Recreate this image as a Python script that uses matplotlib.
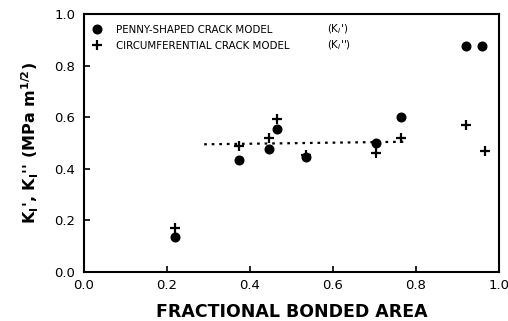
import matplotlib
matplotlib.use("Agg")
import matplotlib.pyplot as plt
from matplotlib.lines import Line2D

plt.rcParams['font.family'] = ['DejaVu Sans']

# data
area = [0.22, 0.375, 0.445, 0.465, 0.535, 0.705, 0.765, 0.922, 0.96]
k_penny = [0.134, 0.435, 0.478, 0.555, 0.445, 0.50, 0.602, 0.878, 0.878]
area_circ = [0.22, 0.375, 0.445, 0.465, 0.535, 0.705, 0.765, 0.922, 0.966]
k_circ = [0.172, 0.49, 0.52, 0.595, 0.455, 0.46, 0.52, 0.57, 0.468]
fit_x = [0.29, 0.78]
fit_y = [0.495, 0.505]
tick_labels = ['0.0', '0.2', '0.4', '0.6', '0.8', '1.0']

fig = plt.figure(figsize=(5.08, 3.21), dpi=100)
ax = fig.add_axes([0.165, 0.153, 0.817, 0.803])

ax.plot(area, k_penny, 'o', color='black', ms=6.2, ls='none')
ax.plot(area_circ, k_circ, '+', color='black', ms=7.5, mew=1.6, ls='none')
ax.plot(fit_x, fit_y, ls=(0, (1.2, 2.2)), color='black', lw=1.6)

ax.set_xlim(0, 1.0)
ax.set_ylim(0, 1.0)
ticks = [0.0, 0.2, 0.4, 0.6, 0.8, 1.0]
ax.set_xticks(ticks)
ax.set_yticks(ticks)
ax.set_xticklabels(tick_labels, fontsize=9.5)
ax.set_yticklabels(tick_labels, fontsize=9.5)
ax.tick_params(direction='in', length=4, width=1.2)
ax.tick_params(axis='x', pad=5)
ax.tick_params(axis='y', pad=6)
for s in ax.spines.values():
    s.set_linewidth(1.5)

ax.set_xlabel('FRACTIONAL BONDED AREA', fontsize=12.5, fontweight='bold', labelpad=8)
ax.set_ylabel(r"K$_\mathbf{I}$', K$_\mathbf{I}$'' (MPa m$^{\mathbf{1/2}}$)",
              fontsize=11.5, fontweight='bold', labelpad=10)

handles = [Line2D([], [], marker='o', color='black', ls='none', ms=6.2),
           Line2D([], [], marker='+', color='black', ls='none', ms=7.5, mew=1.6)]
leg = ax.legend(handles, ['PENNY-SHAPED CRACK MODEL', 'CIRCUMFERENTIAL CRACK MODEL'],
                loc='upper left', bbox_to_anchor=(0.0, 0.99), frameon=False,
                fontsize=7.4, handlelength=1.0, handletextpad=1.3, labelspacing=0.6,
                borderaxespad=0.4)
ax.text(0.585, 0.94, r"(K$_I$')", transform=ax.transAxes, fontsize=7.4, va='center')
ax.text(0.585, 0.878, r"(K$_I$'')", transform=ax.transAxes, fontsize=7.4, va='center')

fig.savefig('out.png', dpi=100)
